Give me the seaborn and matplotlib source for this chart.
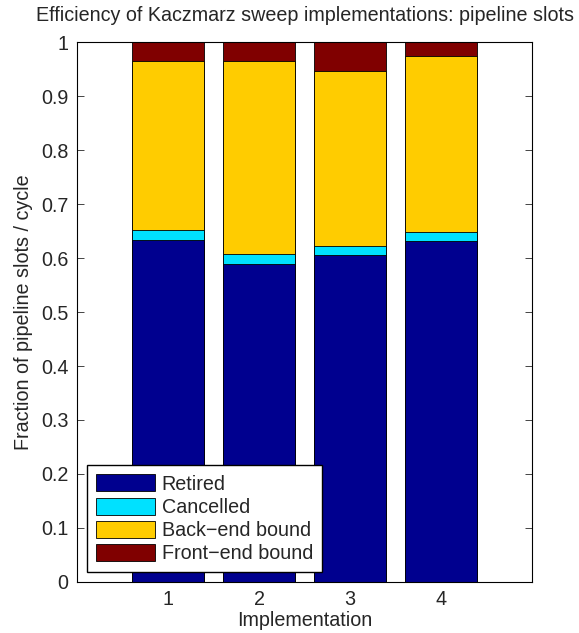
import numpy as np
import pandas as pd
import matplotlib
matplotlib.use("Agg")
import matplotlib.pyplot as plt
import seaborn as sns

# data
implementations = [1, 2, 3, 4]
retired = [0.633, 0.589, 0.606, 0.632]
cancelled = [0.018, 0.018, 0.017, 0.017]
back_end = [0.314, 0.357, 0.324, 0.325]
front_end = [0.035, 0.036, 0.053, 0.026]

labels = ["Retired", "Cancelled", "Back\u2212end bound", "Front\u2212end bound"]
colors = ["#00008f", "#00e1ff", "#ffcc00", "#800000"]
ytick_labels = ["0", "0.1", "0.2", "0.3", "0.4", "0.5", "0.6", "0.7",
                "0.8", "0.9", "1"]

sns.set_style("ticks")
plt.rcParams["font.family"] = ["Liberation Sans", "DejaVu Sans"]
FS = 14.2

segments = np.array([retired, cancelled, back_end, front_end])
tops = np.cumsum(segments, axis=0)

fig = plt.figure(figsize=(5.79, 6.33), dpi=100)
ax = fig.add_axes([0.133, 0.0806, 0.786, 0.853])

# stacked bars: draw cumulative totals from the top segment down
for i in range(len(labels) - 1, -1, -1):
    df = pd.DataFrame({"impl": implementations, "value": tops[i]})
    sns.barplot(data=df, x="impl", y="value", native_scale=True, width=0.8,
                color=colors[i], saturation=1, edgecolor="black",
                linewidth=0.6, label=labels[i], ax=ax)

ax.set_xlim(0, 5)
ax.set_ylim(0, 1)
ax.set_xticks(implementations)
ax.set_yticks(np.arange(0, 1.01, 0.1))
ax.set_yticklabels(ytick_labels)
ax.tick_params(direction="in", top=True, right=True, length=5, width=0.6,
               labelsize=FS, pad=6)
for s in ax.spines.values():
    s.set_visible(True)
    s.set_linewidth(0.8)
    s.set_color("black")

ax.set_xlabel("Implementation", fontsize=FS, labelpad=1)
ax.set_ylabel("Fraction of pipeline slots / cycle", fontsize=FS, labelpad=6)
ax.set_title("Efficiency of Kaczmarz sweep implementations: pipeline slots",
             fontsize=FS, pad=15)

handles, leg_labels = ax.get_legend_handles_labels()
order = [leg_labels.index(l) for l in labels]
ax.legend([handles[k] for k in order], labels, loc="lower left",
          fontsize=FS, frameon=True, fancybox=False, edgecolor="black",
          framealpha=1, borderaxespad=0.5, handlelength=3.0,
          handleheight=0.95, labelspacing=0.2, handletextpad=0.35,
          borderpad=0.45)

fig.savefig("out.png", dpi=100)
